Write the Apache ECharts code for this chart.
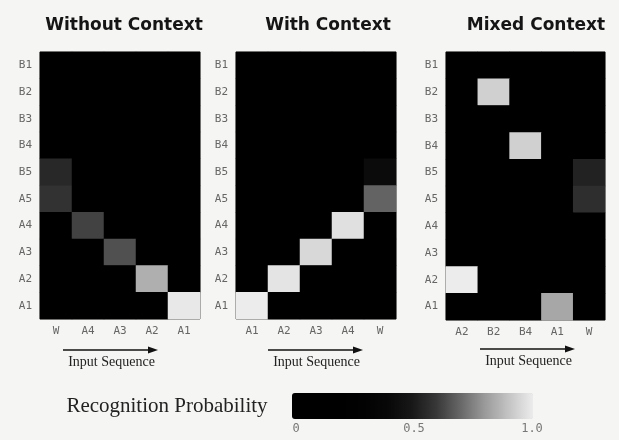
<!DOCTYPE html>
<html><head><meta charset="utf-8">
<script src="https://cdn.jsdelivr.net/npm/echarts@6/dist/echarts.min.js"></script>
<style>html,body{margin:0;padding:0;background:#f5f5f3;}#c{width:619px;height:440px;}</style>
</head><body><div id="c"></div>
<script>
// Row labels (top to bottom)
var yLabels = ['B1','B2','B3','B4','B5','A5','A4','A3','A2','A1'];
// Column labels (input sequence) for each panel
var xWithout = ['W','A4','A3','A2','A1'];
var xWith = ['A1','A2','A3','A4','W'];
var xMixed = ['A2','B2','B4','A1','W'];
var panelTitles = ['Without Context','With Context','Mixed Context'];
// Recognition probabilities, rows follow yLabels, columns follow each panel's x labels
var probWithout = [
  [0,0,0,0,0],
  [0,0,0,0,0],
  [0,0,0,0,0],
  [0,0,0,0,0],
  [0.55,0,0,0,0],
  [0.58,0,0,0,0],
  [0,0.62,0,0,0],
  [0,0,0.65,0,0],
  [0,0,0,0.85,0],
  [0,0,0,0,0.99]
];
var probWith = [
  [0,0,0,0,0],
  [0,0,0,0,0],
  [0,0,0,0,0],
  [0,0,0,0,0],
  [0,0,0,0,0.42],
  [0,0,0,0,0.69],
  [0,0,0,0.97,0],
  [0,0,0.95,0,0],
  [0,0.98,0,0,0],
  [1.0,0,0,0,0]
];
var probMixed = [
  [0,0,0,0,0],
  [0,0.93,0,0,0],
  [0,0,0,0,0],
  [0,0,0.93,0,0],
  [0,0,0,0,0.53],
  [0,0,0,0,0.57],
  [0,0,0,0,0],
  [0,0,0,0,0],
  [1.0,0,0,0,0],
  [0,0,0,0.83,0]
];
var colorbarTicks = ['0','0.5','1.0'];

function toCells(m){
  var out=[];
  for(var r=0;r<m.length;r++) for(var c=0;c<m[r].length;c++) out.push([c,r,m[r][c]]);
  return out;
}
var xs=[xWithout,xWith,xMixed], ms=[probWithout,probWith,probMixed];
var grids=[{left:40,top:52,width:160,height:267},{left:236,top:52,width:160,height:267},{left:446,top:52,width:159,height:268}];
var chart=echarts.init(document.getElementById('c'),null,{renderer:'canvas'});
var xAxes=[],yAxes=[],series=[],gridOpts=[],titles=[];
var titleCenters=[119,323,531];
for(var i=0;i<3;i++){
  var g=grids[i];
  gridOpts.push({left:g.left,top:g.top,width:g.width,height:g.height,show:true,backgroundColor:'#000',borderColor:'#3a3a3a',borderWidth:1});
  xAxes.push({type:'category',gridIndex:i,data:xs[i],axisLine:{show:false},axisTick:{show:false},splitArea:{show:false},
    axisLabel:{color:'#666',fontFamily:'DejaVu Sans Mono',fontSize:11,margin:7}});
  yAxes.push({type:'category',gridIndex:i,data:yLabels,inverse:true,axisLine:{show:false},axisTick:{show:false},splitArea:{show:false},
    axisLabel:{color:'#666',fontFamily:'DejaVu Sans Mono',fontSize:11,margin:8}});
  series.push({type:'heatmap',xAxisIndex:i,yAxisIndex:i,data:toCells(ms[i]),itemStyle:{borderWidth:0},emphasis:{disabled:true},animation:false});
  titles.push({text:panelTitles[i],left:titleCenters[i],top:12,textAlign:'center',
    textStyle:{fontFamily:'DejaVu Sans',fontWeight:'bold',fontSize:17,color:'#151515'}});
}
var graphic=[];
var arrows=[[63,158,350],[268,363,350],[480,575,349]];
arrows.forEach(function(a){
  graphic.push({type:'line',shape:{x1:a[0],y1:a[2],x2:a[1]-7,y2:a[2]},style:{stroke:'#111',lineWidth:1.5}});
  graphic.push({type:'polygon',shape:{points:[[a[1],a[2]],[a[1]-10,a[2]-3.5],[a[1]-10,a[2]+3.5]]},style:{fill:'#111'}});
  graphic.push({type:'text',x:(a[0]+a[1])/2+1,y:a[2]+5,style:{text:'Input Sequence',fill:'#222',font:'14px "Liberation Serif"',textAlign:'center'}});
});
graphic.push({type:'text',x:167,y:406,style:{text:'Recognition Probability',fill:'#222',font:'21px "Liberation Serif"',textAlign:'center',textVerticalAlign:'middle'}});
var tickX=[296,414,532];
colorbarTicks.forEach(function(t,k){
  graphic.push({type:'text',x:tickX[k],y:423,style:{text:t,fill:'#777',font:'12px "DejaVu Sans Mono"',textAlign:'center'}});
});
chart.setOption({
  backgroundColor:'#f5f5f3',
  animation:false,
  title:titles,
  grid:gridOpts,
  xAxis:xAxes,
  yAxis:yAxes,
  visualMap:{type:'continuous',min:0,max:1,seriesIndex:[0,1,2],orient:'horizontal',left:292,top:393,padding:0,
    itemWidth:26,itemHeight:241,calculable:false,text:null,showLabel:false,
    inRange:{color:['#000000','#000000','#000000','#020202','#080808','#181818','#383838','#686868','#9a9a9a','#c4c4c4','#ececec']}},
  series:series,
  graphic:graphic
});
</script></body></html>
